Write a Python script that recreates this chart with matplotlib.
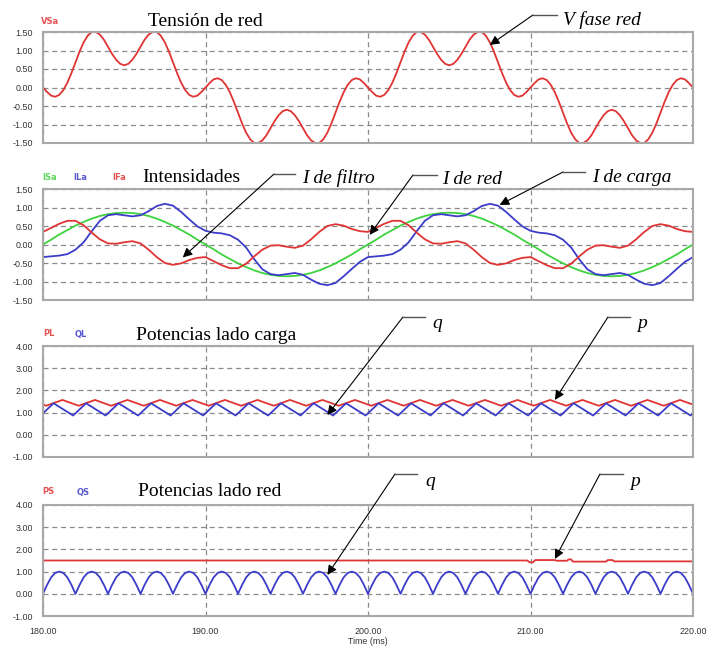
import numpy as np
import matplotlib.pyplot as plt
from matplotlib.lines import Line2D

# grid voltage, one 20 ms period sampled every 0.25 ms
vsa_period = [0.00, -0.12, -0.22, -0.25, -0.20, -0.07, 0.13, 0.39, 0.68, 0.97,
              1.22, 1.40, 1.50, 1.50, 1.43, 1.29, 1.10, 0.91, 0.75, 0.64,
              0.60, 0.64, 0.75, 0.91, 1.10, 1.29, 1.43, 1.50, 1.50, 1.40,
              1.22, 0.97, 0.68, 0.39, 0.13, -0.07, -0.20, -0.25, -0.22, -0.12,
              0.00, 0.12, 0.22, 0.25, 0.20, 0.07, -0.13, -0.39, -0.68, -0.97,
              -1.22, -1.40, -1.50, -1.50, -1.43, -1.29, -1.10, -0.91, -0.75, -0.64,
              -0.60, -0.64, -0.75, -0.91, -1.10, -1.29, -1.43, -1.50, -1.50, -1.40,
              -1.22, -0.97, -0.68, -0.39, -0.13, 0.07, 0.20, 0.25, 0.22, 0.12]

# currents, one period sampled every 0.5 ms
isa_period = [0.00, 0.13, 0.27, 0.39, 0.51, 0.61, 0.70, 0.77, 0.82, 0.85,
              0.86, 0.85, 0.82, 0.77, 0.70, 0.61, 0.51, 0.39, 0.27, 0.13,
              0.00, -0.13, -0.27, -0.39, -0.51, -0.61, -0.70, -0.77, -0.82, -0.85,
              -0.86, -0.85, -0.82, -0.77, -0.70, -0.61, -0.51, -0.39, -0.27, -0.13]
ila_period = [-0.34, -0.32, -0.30, -0.26, -0.14, 0.06, 0.36, 0.64, 0.79, 0.82,
              0.79, 0.76, 0.79, 0.90, 1.04, 1.10, 1.05, 0.88, 0.68, 0.49,
              0.37, 0.32, 0.30, 0.25, 0.13, -0.08, -0.40, -0.67, -0.80, -0.83,
              -0.80, -0.77, -0.82, -0.95, -1.06, -1.10, -1.04, -0.86, -0.66, -0.47]
ifa_period = [0.34, 0.45, 0.56, 0.64, 0.64, 0.52, 0.32, 0.14, 0.03, 0.02,
              0.06, 0.09, 0.03, -0.14, -0.34, -0.50, -0.55, -0.51, -0.42, -0.36,
              -0.34, -0.45, -0.56, -0.64, -0.64, -0.52, -0.32, -0.14, -0.03, -0.02,
              -0.06, -0.09, -0.03, 0.14, 0.34, 0.50, 0.55, 0.51, 0.42, 0.36]

# load-side powers: corner points of one 2 ms ripple cycle
pl_t = [0.0, 0.2, 1.2]
pl_v = [1.36, 1.31, 1.57]
ql_t = [0.0, 0.65, 1.85]
ql_v = [0.97, 1.42, 0.87]

# grid-side powers
qs_arch = [0.00, 0.40, 0.74, 0.94, 1.00, 0.94, 0.74, 0.40]   # every 0.25 ms
ps_t = [180, 209.8, 209.95, 210.15, 210.3, 211.5, 211.6, 212.25, 212.35,
        212.5, 212.6, 214.65, 214.75, 215.05, 215.15, 220]
ps_v = [1.50, 1.50, 1.42, 1.42, 1.52, 1.52, 1.49, 1.49, 1.55,
        1.55, 1.45, 1.45, 1.52, 1.52, 1.46, 1.46]

RED = '#e03434'
BLUE = '#3c3cc8'
GREEN = '#3ed23e'
W, H = 707, 648

def tile(period, dt, n):
    t = 180 + dt * np.arange(len(period) * n + 1)
    return t, np.array(list(period) * n + [period[0]])

def ripple(ct, cv, n=20):
    t = [180 + 2 * k + c for k in range(n) for c in ct] + [220]
    v = list(cv) * n + [cv[0]]
    return np.array(t), np.array(v)

fig = plt.figure(figsize=(W / 100, H / 100), dpi=100)
bottoms = [1 - 143 / H, 1 - 300 / H, 1 - 457 / H, 1 - 616 / H]
axs = [fig.add_axes([43 / W, b, 650 / W, 111 / H]) for b in bottoms]

ylims = [(-1.5, 1.5), (-1.5, 1.5), (-1, 4), (-1, 4)]
yticks = [np.arange(-1.5, 1.51, 0.5), np.arange(-1.5, 1.51, 0.5),
          np.arange(-1, 4.01, 1), np.arange(-1, 4.01, 1)]
tickfont = dict(family='Liberation Sans', size=6.4)
for ax, yl, yt in zip(axs, ylims, yticks):
    ax.set_xlim(180, 220)
    ax.set_ylim(*yl)
    ax.set_yticks(yt)
    ax.set_yticklabels(['%.2f' % v for v in yt], fontdict=tickfont)
    ax.set_xticks([180, 190, 200, 210, 220])
    ax.grid(True, ls=(0, (4, 3)), color='#8a8a8a', lw=0.9)
    ax.tick_params(length=0, colors='#333333', pad=7)
    for s in ax.spines.values():
        s.set_color('#a8a8a8')
        s.set_linewidth(1.5)
    if ax is not axs[-1]:
        ax.set_xticklabels([])
axs[-1].set_xticklabels(['%.2f' % v for v in [180, 190, 200, 210, 220]],
                        fontdict=tickfont)
axs[-1].tick_params(axis='x', pad=8)
axs[-1].set_xlabel('Time (ms)', fontdict=tickfont, color='#333333', labelpad=1)

lw = 1.3
t, v = tile(vsa_period, 0.25, 2)
axs[0].plot(t, v, color=RED, lw=lw)

t, v = tile(isa_period, 0.5, 2)
axs[1].plot(t, v, color=GREEN, lw=lw)
t, v = tile(ila_period, 0.5, 2)
axs[1].plot(t, v, color=BLUE, lw=lw)
t, v = tile(ifa_period, 0.5, 2)
axs[1].plot(t, v, color=RED, lw=lw)

t, v = ripple(pl_t, pl_v)
axs[2].plot(t, v, color=RED, lw=lw)
t, v = ripple(ql_t, ql_v)
axs[2].plot(t, v, color=BLUE, lw=lw)

axs[3].plot(ps_t, ps_v, color=RED, lw=lw)
t, v = tile(qs_arch, 0.25, 20)
axs[3].plot(t, v, color=BLUE, lw=lw)

def px(x, y):
    return x / W, 1 - y / H

# panel titles
for s, x, y in [('Tensión de red', 205, 22), ('Intensidades', 191, 177),
                ('Potencias lado carga', 216, 335), ('Potencias lado red', 210, 491)]:
    fig.text(*px(x, y), s, ha='center', va='center', fontsize=14,
             family='Liberation Serif')

# small channel names
for s, c, x, y in [('VSa', RED, 41, 21),
                   ('ISa', GREEN, 42, 178), ('ILa', BLUE, 73, 178), ('IFa', RED, 112, 178),
                   ('PL', RED, 43, 334), ('QL', BLUE, 75, 334),
                   ('PS', RED, 42, 492), ('QS', BLUE, 77, 492)]:
    fig.text(*px(x, y), s, color=c, ha='left', va='center', fontsize=6,
             fontweight='bold', alpha=0.85)

def callout(ax, s, xy, x0, x1, yl, xt, yt):
    ax.annotate('', xy=xy, xycoords='data', xytext=(x0, H - yl),
                textcoords='figure pixels',
                arrowprops=dict(arrowstyle='-|>', color='black', lw=0.8,
                                mutation_scale=14, shrinkA=0, shrinkB=0))
    fig.add_artist(Line2D([x0 / W, x1 / W], [1 - yl / H, 1 - yl / H],
                          color='#555555', lw=1.0))
    fig.text(*px(xt, yt), s, ha='left', va='center', fontsize=14,
             family='Liberation Serif', style='italic')

callout(axs[0], 'V fase red', (207.5, 1.15), 533, 557, 15, 563, 20)
callout(axs[1], 'I de filtro', (188.6, -0.35), 274, 295, 174, 302, 178)
callout(axs[1], 'I de red', (200.1, 0.26), 413, 437, 175, 442, 180)
callout(axs[1], 'I de carga', (208.1, 1.07), 563, 585, 172, 592, 178)
callout(axs[2], 'q', (197.5, 0.89), 403, 425, 317, 432, 323)
callout(axs[2], 'p', (211.5, 1.57), 608, 630, 317, 637, 323)
callout(axs[3], 'q', (197.5, 0.85), 395, 417, 474, 425, 482)
callout(axs[3], 'p', (211.5, 1.57), 600, 623, 474, 630, 482)

fig.savefig('out.png', dpi=100)
